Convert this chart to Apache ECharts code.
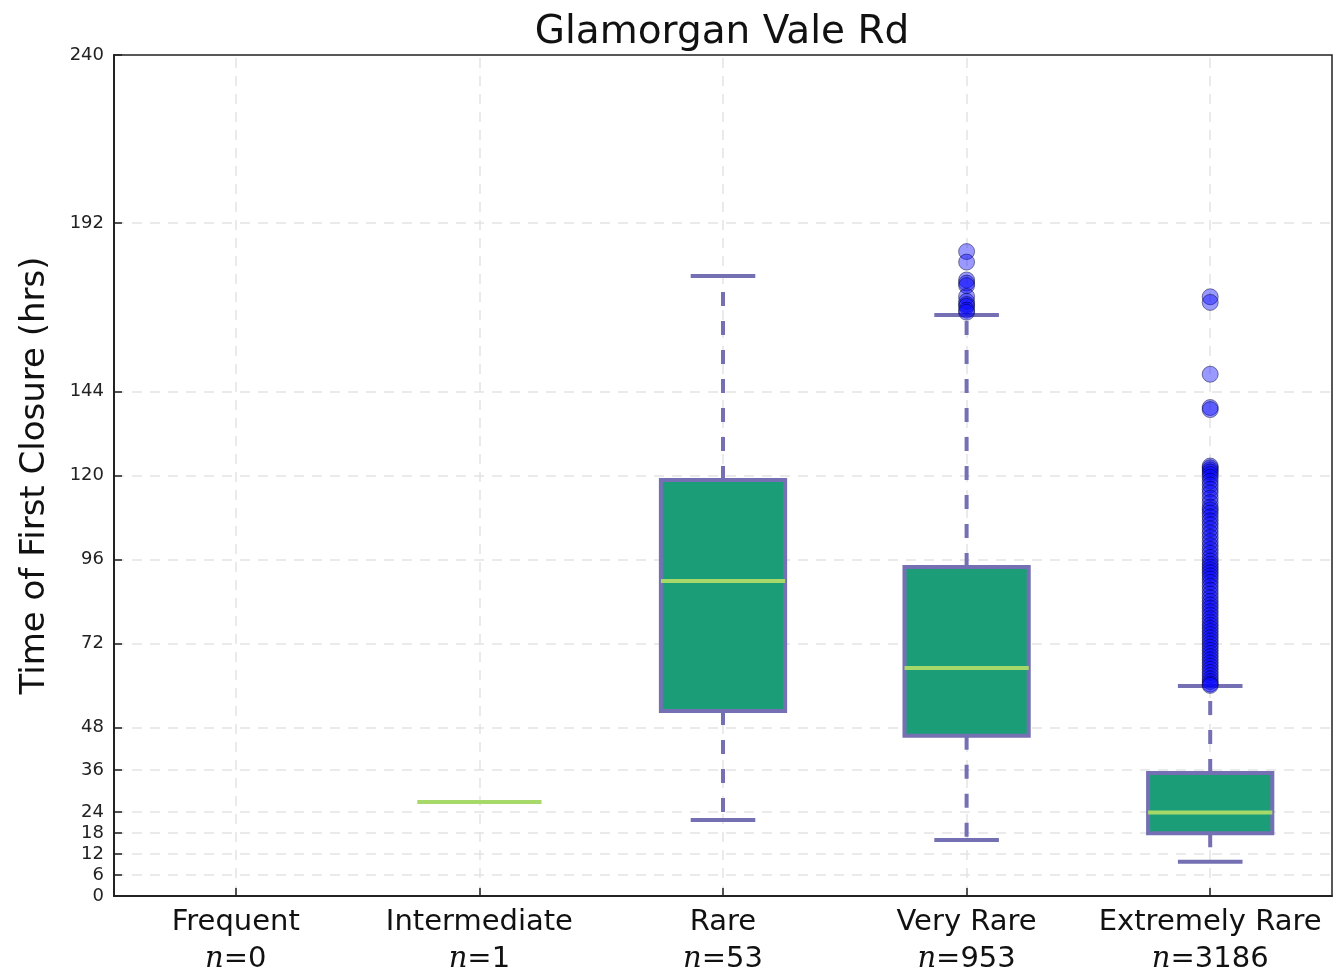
<!DOCTYPE html>
<html>
<head>
<meta charset="utf-8">
<script src="https://cdn.jsdelivr.net/npm/echarts@6/dist/echarts.min.js"></script>
<style>
html,body{margin:0;padding:0;background:#fff;}
#chart{width:1333px;height:977px;}
</style>
</head>
<body>
<div id="chart"></div>
<script>
const categories = ['Frequent', 'Intermediate', 'Rare', 'Very Rare', 'Extremely Rare'];
const counts = [0, 1, 53, 953, 3186];
// [lowerWhisker, Q1, median, Q3, upperWhisker]; null = no data
const boxStats = [
  null,
  [26.8, 26.8, 26.8, 26.8, 26.8],
  [21.7, 52.8, 89.9, 118.7, 176.9],
  [16.0, 45.7, 65.1, 93.9, 165.8],
  [9.8, 17.9, 23.8, 35.1, 59.9]
];
const outliersVeryRare = [183.9, 180.9, 175.8, 174.9, 174.2, 171.1, 169.7, 168.8, 168.3, 167.2, 166.6];
const outliersExtremelyRare = [171.0, 169.4, 148.9, 139.4, 138.8,
  122.7, 122.2, 121.6, 121.0, 120.3, 119.5, 118.4, 117.3, 116.1, 115.0, 113.6, 112.3,
  111.0, 110.2, 109.3, 108.2, 107.1, 106.0, 104.8, 103.6, 102.4, 101.2, 100.0, 98.9,
  97.8, 96.6, 95.6, 94.7, 93.9, 93.1, 92.3, 91.4, 90.5, 89.5, 88.4, 87.3, 86.2,
  85.1, 84.1, 83.1, 82.2, 81.2, 80.2, 79.2, 78.2, 77.3, 76.4, 75.5, 74.6, 73.7,
  72.8, 71.9, 71.0, 70.1, 69.2, 68.3, 67.4, 66.5, 65.6, 64.7, 63.8, 62.9, 62.0,
  61.2, 60.5, 60.1];
const yTicks = [0, 6, 12, 18, 24, 36, 48, 72, 96, 120, 144, 192, 240];

const boxData = [];
boxStats.forEach((s, i) => { if (s) boxData.push([i].concat(s)); });
const outlierData = [];
outliersVeryRare.forEach(v => outlierData.push([3, v]));
outliersExtremelyRare.forEach(v => outlierData.push([4, v]));

const PURPLE = '#7570b3', GREEN = '#1b9e77', MED = '#a6d96a';

function renderBox(params, api) {
  const i = api.value(0);
  const lo = api.value(1), q1 = api.value(2), med = api.value(3), q3 = api.value(4), hi = api.value(5);
  const bandW = api.size([1, 0])[0];
  const bw = bandW * 0.51;
  const cw = bw * 0.52;
  const pLo = api.coord([i, lo]), pQ1 = api.coord([i, q1]), pMed = api.coord([i, med]),
        pQ3 = api.coord([i, q3]), pHi = api.coord([i, hi]);
  const x = pMed[0];
  const children = [];
  const single = (lo === hi);
  if (!single) {
    children.push({type: 'line', shape: {x1: x, y1: pQ3[1], x2: x, y2: pHi[1]},
      style: {stroke: PURPLE, lineWidth: 4, lineDash: [14, 15]}});
    children.push({type: 'line', shape: {x1: x, y1: pQ1[1], x2: x, y2: pLo[1]},
      style: {stroke: PURPLE, lineWidth: 4, lineDash: [14, 15]}});
    children.push({type: 'line', shape: {x1: x - cw / 2, y1: pHi[1], x2: x + cw / 2, y2: pHi[1]},
      style: {stroke: PURPLE, lineWidth: 4}});
    children.push({type: 'line', shape: {x1: x - cw / 2, y1: pLo[1], x2: x + cw / 2, y2: pLo[1]},
      style: {stroke: PURPLE, lineWidth: 4}});
    children.push({type: 'rect', shape: {x: x - bw / 2, y: pQ3[1], width: bw, height: pQ1[1] - pQ3[1]},
      style: {fill: GREEN, stroke: PURPLE, lineWidth: 4}});
  }
  children.push({type: 'line', shape: {x1: x - bw / 2, y1: pMed[1], x2: x + bw / 2, y2: pMed[1]},
    style: {stroke: MED, lineWidth: 4}});
  return {type: 'group', children: children};
}

const chart = echarts.init(document.getElementById('chart'));
const gridStyle = {color: '#e3e3e3', type: [10, 8], width: 1.5};
chart.setOption({
  animation: false,
  title: {
    text: 'Glamorgan Vale Rd', left: 717, top: 8, textAlign: 'center',
    textStyle: {fontFamily: 'DejaVu Sans', fontWeight: 'normal', fontSize: 39, color: '#111'}
  },
  grid: {left: 114, top: 55, right: 1, bottom: 81, outerBoundsMode: 'none', containLabel: false,
    show: true, borderColor: '#222', borderWidth: 1.5, backgroundColor: 'transparent'},
  xAxis: {
    type: 'category', data: categories,
    axisLine: {lineStyle: {color: '#222', width: 2}},
    axisTick: {show: true, alignWithLabel: true, inside: true, length: 8, lineStyle: {color: '#222', width: 1.5}},
    splitLine: {show: false},
    axisLabel: {
      interval: 0, margin: 8, lineHeight: 37, hideOverlap: false,
      formatter: (v, idx) => v + '\n{it|n}{n|=' + counts[idx] + '}',
      color: '#111', fontFamily: 'DejaVu Sans', fontSize: 29,
      rich: {
        it: {fontFamily: 'DejaVu Serif', fontStyle: 'italic', fontSize: 29, color: '#111', lineHeight: 37},
        n: {fontFamily: 'DejaVu Sans', fontSize: 29, color: '#111', lineHeight: 37}
      }
    }
  },
  yAxis: {
    type: 'value', min: 0, max: 240,
    name: 'Time of First Closure (hrs)', nameLocation: 'middle', nameGap: 62, nameMoveOverlap: false,
    nameTextStyle: {fontFamily: 'DejaVu Sans', fontSize: 34, color: '#111'},
    axisLine: {show: true, lineStyle: {color: '#222', width: 2}},
    axisTick: {show: true, inside: true, length: 8, customValues: yTicks, lineStyle: {color: '#222', width: 1.5}},
    axisLabel: {customValues: yTicks, fontFamily: 'DejaVu Sans', fontSize: 18, color: '#222', margin: 10},
    splitLine: {show: false}
  },
  series: [
    {
      type: 'line', data: [], silent: true, z: 0,
      markLine: {
        silent: true, symbol: 'none', label: {show: false}, animation: false, z: 0,
        lineStyle: gridStyle,
        data: yTicks.filter(v => v > 0 && v < 240).map(v => ({yAxis: v}))
          .concat(categories.map(c => ({xAxis: c})))
      }
    },
    {
      type: 'custom', renderItem: renderBox, data: boxData, z: 3,
      encode: {x: 0, y: [1, 2, 3, 4, 5]}
    },
    {
      type: 'scatter', data: outlierData, z: 4, symbolSize: 16,
      itemStyle: {color: 'rgba(0,0,255,0.5)', borderColor: 'rgba(0,0,50,0.6)', borderWidth: 1}
    }
  ]
});
</script>
</body>
</html>
